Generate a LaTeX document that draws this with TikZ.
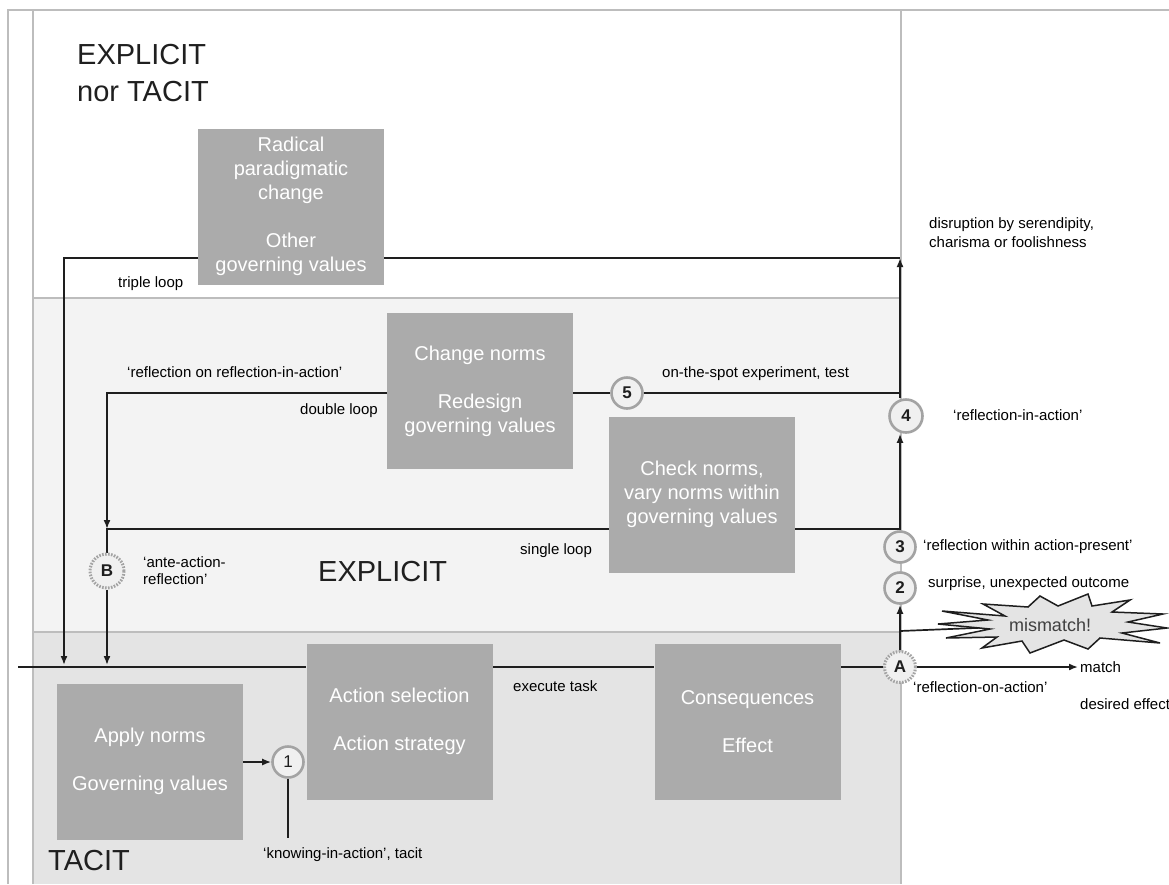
\documentclass[tikz,border=0pt]{standalone}
\usepackage{fontspec}
\setmainfont{Liberation Sans}
\usetikzlibrary{arrows.meta,calc}
\pgfdeclarelayer{bg}
\pgfdeclarelayer{lines}
\pgfsetlayers{bg,lines,main}
\definecolor{boxgray}{HTML}{ABABAB}
\definecolor{framegray}{HTML}{BDBDBD}
\definecolor{midpanel}{HTML}{F3F3F3}
\definecolor{botpanel}{HTML}{E4E4E4}
\definecolor{circgray}{HTML}{A3A3A3}
\definecolor{circfill}{HTML}{F0F0F0}
\definecolor{ink}{HTML}{1E1E1E}
\definecolor{starfill}{HTML}{E4E4E4}
\begin{document}
\begin{tikzpicture}[x=1pt,y=-1pt,
  gbox/.style={fill=boxgray, draw=none, inner sep=0pt, minimum width=186pt, minimum height=156pt,
    text=white, align=center, font=\fontsize{20}{24}\selectfont},
  lbl/.style={anchor=west, inner sep=0pt, text=black, font=\fontsize{15}{19}\selectfont, align=left},
  big/.style={anchor=west, inner sep=0pt, text=black!88, font=\fontsize{29}{37}\selectfont, align=left},
  num/.style={circle, draw=circgray, line width=2.6pt, fill=circfill, minimum size=31pt, inner sep=0pt,
    font=\bfseries\fontsize{17}{19}\selectfont, text=ink},
  dnum/.style={num, dash pattern=on 1.6pt off 1.4pt, line width=3pt},
  conn/.style={draw=ink, line width=1.7pt},
  arr/.style={conn, -{Latex[length=9pt,width=7pt]}},
  framel/.style={draw=framegray, line width=2.5pt},
]
\useasboundingbox (0,0) rectangle (1169,884);

% ---------- panels ----------
\begin{pgfonlayer}{bg}
  \fill[white] (0,0) rectangle (1169,884);
  \fill[midpanel] (33,298) rectangle (901,632);
  \fill[botpanel] (33,632) rectangle (901,884);
  \draw[framel] (8,884) -- (8,10) -- (1169,10);
  \draw[framel] (33,10) -- (33,884);
  \draw[framel] (901,10) -- (901,884);
  \draw[framel] (33,298) -- (901,298);
  \draw[framel] (33,632) -- (901,632);
\end{pgfonlayer}

% ---------- boxes ----------
\node[gbox] (rad) at (291,206.5) {Radical\\paradigmatic\\change\\[24pt]Other\\governing values};
\node[gbox] (ch)  at (480,391) {Change norms\\[24pt]Redesign\\governing values};
\node[gbox] (chk) at (702,494.5) {Check norms,\\vary norms within\\governing values};
\node[gbox] (act) at (399.5,721.5) {Action selection\\[24pt]Action strategy};
\node[gbox] (con) at (747.5,722) {Consequences\\[24pt]Effect};
\node[gbox] (ap)  at (150,761.5) {Apply norms\\[24pt]Governing values};

% ---------- circles ----------
\node[num, font=\fontsize{17}{19}\selectfont] (n1) at (288,762) {1};
\node[num] (n5) at (627,393) {5};
\node[num, minimum size=33pt] (n4) at (906,416) {4};
\node[num] (n3) at (900,547) {3};
\node[num] (n2) at (900,588) {2};
\node[dnum] (nA) at (900,667) {A};
\node[dnum, minimum size=34pt] (nB) at (107,571) {B};

% ---------- mismatch star ----------
\filldraw[fill=starfill, draw=ink, line width=1.5pt, line join=miter]
  (942,611) -- (1005,616) -- (983,604) -- (1028,607) -- (1040,596) -- (1058,606) -- (1088,594)
  -- (1092,606) -- (1130,600) -- (1112,612) -- (1163,614) -- (1128,622) -- (1167,628)
  -- (1122,633) -- (1160,643) -- (1100,638) -- (1088,649) -- (1064,640) -- (1030,653)
  -- (1022,641) -- (982,648) -- (997,637) -- (946,638) -- (990,629) -- (938,624) -- (988,620) -- cycle;
\node[inner sep=0pt, text=black!75, font=\fontsize{18}{20}\selectfont] (mm) at (1050,625) {mismatch!};

% ---------- labels ----------
\node[big] (lexn) at (77,73) {EXPLICIT\\nor TACIT};
\node[big] (lex) at (318,572) {EXPLICIT};
\node[big] (ltac) at (48,861) {TACIT};

\node[lbl] (ldis) at (929,233) {disruption by serendipity,\\charisma or foolishness};
\node[lbl] (ltri) at (118,284) {triple loop};
\node[lbl] (lrr) at (127,372) {`reflection on reflection-in-action'};
\node[lbl] (ldbl) at (300,411) {double loop};
\node[lbl] (lots) at (662,374) {on-the-spot experiment, test};
\node[lbl] (lria) at (953,415) {`reflection-in-action'};
\node[lbl] (lsgl) at (520,551) {single loop};
\node[lbl] (lrwa) at (923,547) {`reflection within action-present'};
\node[lbl] (lsur) at (928,584) {surprise, unexpected outcome};
\node[lbl] (match) at (1080,667) {match};
\node[lbl] (lroa) at (913,687) {`reflection-on-action'};
\node[lbl] (ldes) at (1080,704) {desired effect};
\node[lbl, font=\fontsize{15}{17}\selectfont] (lante) at (143,571) {`ante-action-\\reflection'};
\node[lbl] (lexe) at (513,686) {execute task};
\node[lbl] (lkia) at (263,855) {`knowing-in-action', tacit};

% ---------- connectors ----------
\coordinate (mL) at (18,667);
\coordinate (mT) at (64,665);
\coordinate (mB) at (107,665);
\coordinate (tR) at (900,258);
\coordinate (tL) at (64,258);
\coordinate (dR) at (900,393);
\coordinate (dL) at (107,393);
\coordinate (sR) at (900,529);
\coordinate (sL) at (107,529);
\coordinate (br) at (900,631);
\coordinate (kE) at (288,838);

\begin{pgfonlayer}{lines}
  % main line
  \draw[conn] (mL) -- (act.west |- mL);
  \draw[conn] (act.east |- mL) -- (con.west |- mL);
  \draw[conn] (con.east |- mL) -- (nA);
  \draw[arr, shorten >=2pt] (nA) -- (match.west);
  % mismatch / reflection column
  \draw[arr] (nA) -- (n2);
  \draw[conn] (br) -- (mm);
  \draw[arr] (n3) -- (n3.north |- n4.south);
  \draw[arr] (n3.north |- n4.north) -- (tR);
  % triple loop
  \draw[conn] (tR) -- (rad.east |- tR);
  \draw[arr] (rad.west |- tR) -- (tL) -- (mT);
  % double loop
  \draw[conn] (dR) -- (n5);
  \draw[conn] (n5) -- (ch.east |- n5);
  \draw[arr] (ch.west |- dL) -- (dL) -- (sL);
  % single loop
  \draw[conn] (sR) -- (chk.east |- sR);
  \draw[conn] (chk.west |- sR) -- (sL) -- (nB);
  \draw[arr] (nB) -- (mB);
  % knowing in action
  \draw[arr] (ap.east |- n1) -- (n1);
  \draw[conn] (n1) -- (kE);
\end{pgfonlayer}
\end{tikzpicture}
\end{document}
